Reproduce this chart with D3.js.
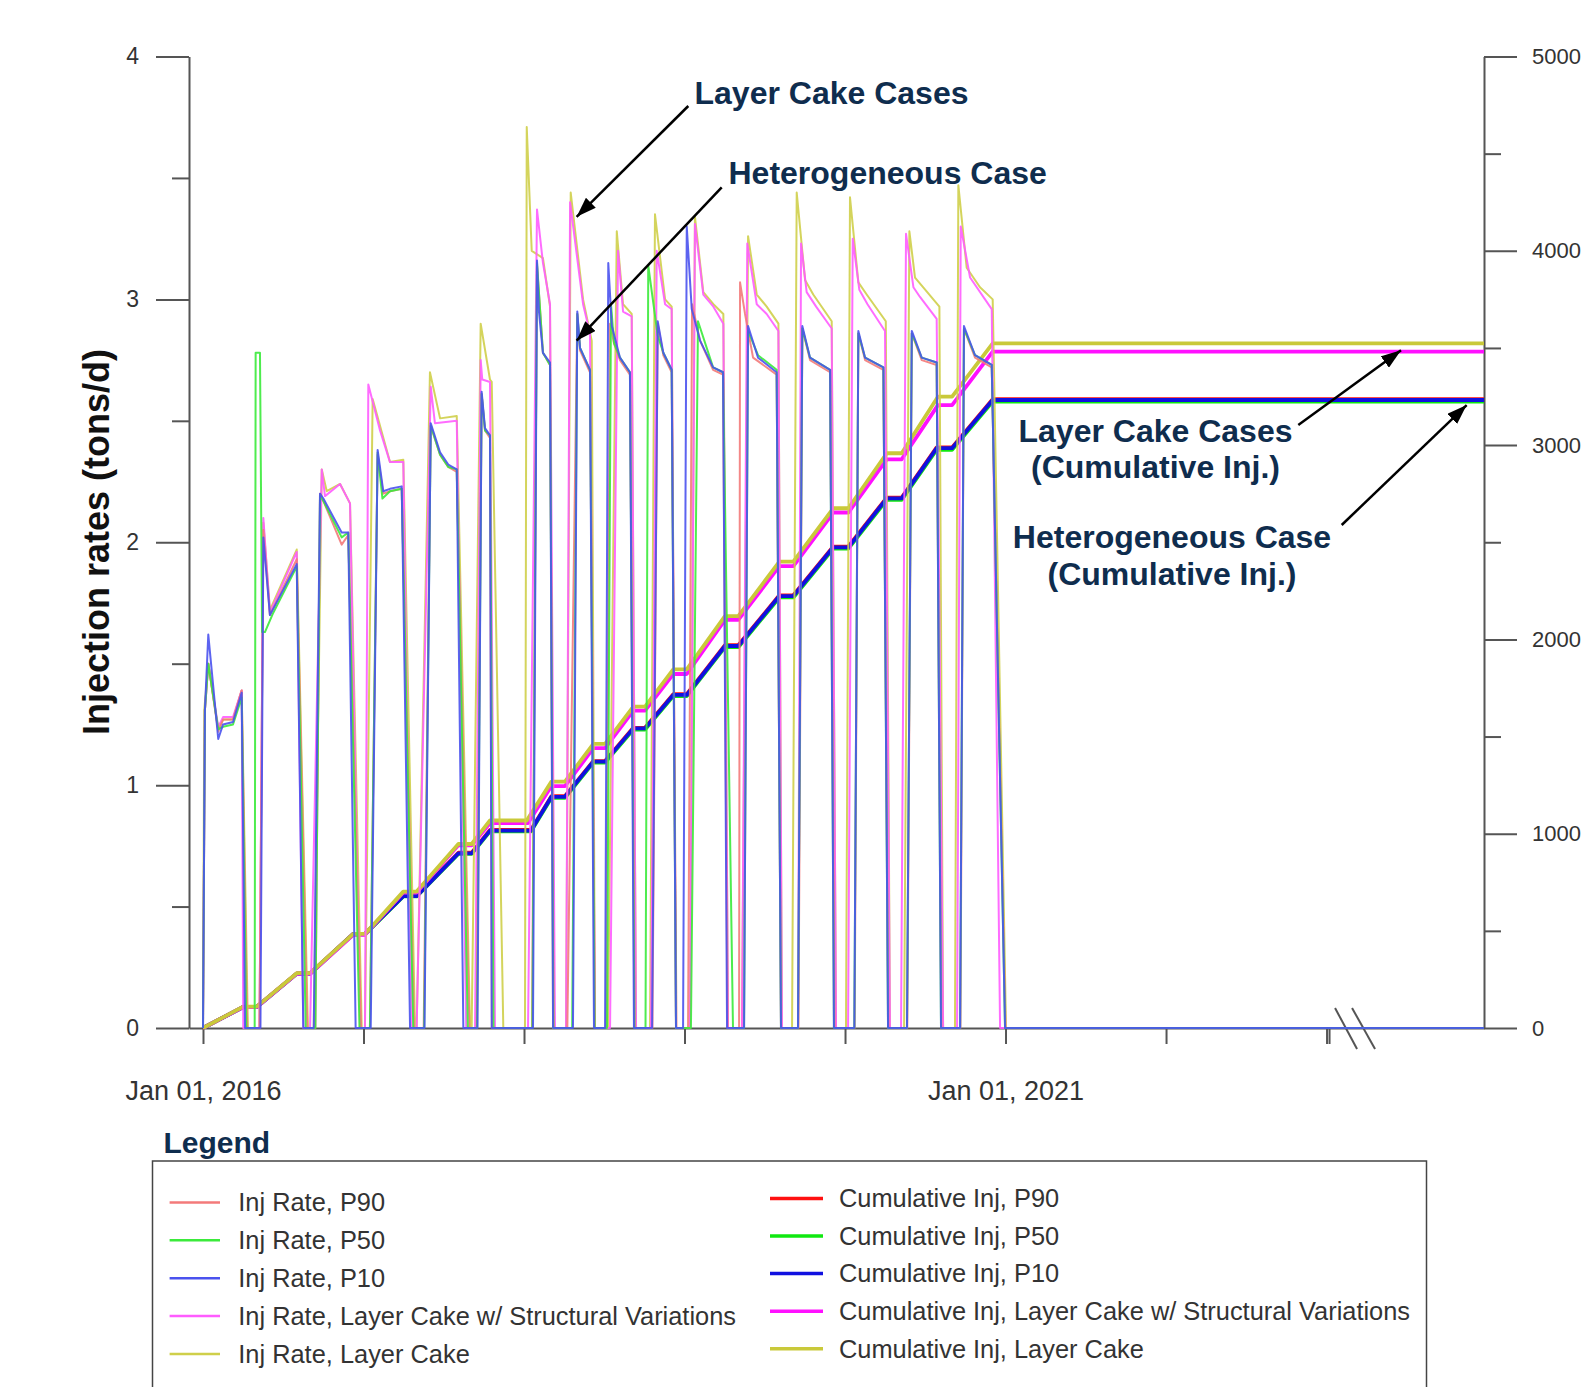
<!DOCTYPE html>
<html><head><meta charset="utf-8">
<script src="https://cdn.jsdelivr.net/npm/d3@7"></script>
<style>
html,body{margin:0;padding:0;background:#fff;}
svg{display:block;}
text{font-family:"Liberation Sans",Arial,Helvetica,sans-serif;}
</style></head><body>
<svg id="chart" width="1583" height="1387"></svg>
<script>
// time values are years since Jan 01, 2016
const xTickYears = [0,1,2,3,4,5,6,7];
const xTickText = ["Jan 01, 2016","","","","","Jan 01, 2021","",""];
const xDomain = [-0.0872, 7.981];
const breakAt = 7;
const yLeftMajor = [0,1,2,3,4];
const yLeftMinor = [0.5,1.5,2.5,3.5];
const yRightMajor = [0,1000,2000,3000,4000,5000];
const yRightMinor = [500,1500,2500,3500,4500];

const rateLC = [[0,0],[0.004,0.66],[0.008,1.31],[0.033,1.50],[0.095,1.23],[0.125,1.27],[0.187,1.27],[0.241,1.39],[0.280,0],
[0.352,0],[0.376,2.08],[0.417,1.72],[0.584,1.97],[0.654,0],
[0.690,0],[0.740,2.30],[0.771,2.21],[0.854,2.24],[0.916,2.16],[0.989,0],
[1.009,0],[1.057,2.59],[1.165,2.33],[1.248,2.34],[1.321,0],
[1.331,0],[1.414,2.70],[1.477,2.51],[1.581,2.52],[1.664,0],
[1.674,0],[1.730,2.90],[1.788,2.67],[1.799,2.66],[1.871,0],
[2.006,0],[2.017,3.71],[2.048,3.20],[2.118,3.17],[2.162,2.97],[2.181,0],
[2.262,0],[2.291,3.44],[2.368,3.00],[2.422,2.83],[2.442,0],
[2.523,0],[2.578,3.28],[2.617,2.98],[2.671,2.94],[2.698,0],
[2.785,0],[2.816,3.35],[2.879,3.00],[2.920,2.97],[2.947,0],
[3.034,0],[3.065,3.34],[3.117,3.03],[3.180,2.98],[3.242,2.94],[3.271,0],
[3.358,0],[3.396,3.26],[3.450,3.02],[3.512,2.97],[3.585,2.90],[3.607,0],
[3.670,0],[3.699,3.44],[3.751,3.08],[3.802,3.02],[3.917,2.91],[3.944,0],
[4.006,0],[4.031,3.42],[4.083,3.07],[4.135,3.02],[4.254,2.91],[4.280,0],
[4.368,0],[4.401,3.28],[4.436,3.09],[4.486,3.05],[4.588,2.97],[4.611,0],
[4.685,0],[4.706,3.47],[4.758,3.13],[4.841,3.05],[4.920,3.00],[5.003,0],[7.981,0]];

const rateLCSV = [[0,0],[0.012,1.31],[0.033,1.50],[0.095,1.24],[0.125,1.28],[0.187,1.28],[0.241,1.39],[0.251,0],
[0.352,0],[0.376,2.10],[0.417,1.71],[0.584,1.96],[0.625,0],
[0.667,0],[0.740,2.30],[0.760,2.19],[0.854,2.24],[0.916,2.16],[0.980,0],
[1.009,0],[1.030,2.65],[1.103,2.46],[1.165,2.33],[1.248,2.33],[1.300,0],
[1.331,0],[1.419,2.64],[1.445,2.49],[1.581,2.50],[1.640,0],
[1.695,0],[1.730,2.75],[1.740,2.67],[1.788,2.66],[1.819,0],
[2.025,0],[2.081,3.37],[2.118,3.15],[2.162,2.98],[2.193,0],
[2.262,0],[2.287,3.40],[2.368,2.98],[2.411,2.86],[2.442,0],
[2.536,0],[2.586,3.20],[2.617,2.95],[2.671,2.93],[2.698,0],
[2.791,0],[2.827,3.20],[2.879,2.98],[2.920,2.96],[2.947,0],
[3.034,0],[3.065,3.31],[3.117,3.02],[3.180,2.97],[3.242,2.90],[3.271,0],
[3.358,0],[3.391,3.23],[3.450,2.98],[3.512,2.94],[3.585,2.87],[3.607,0],
[3.707,0],[3.726,3.23],[3.761,3.03],[3.820,2.97],[3.917,2.88],[3.944,0],
[4.019,0],[4.048,3.25],[4.089,3.04],[4.140,2.98],[4.249,2.87],[4.280,0],
[4.349,0],[4.380,3.27],[4.426,3.05],[4.467,3.01],[4.571,2.92],[4.611,0],
[4.698,0],[4.721,3.30],[4.779,3.09],[4.914,2.96],[4.966,0],[7.981,0]];

const rateP10 = [[0,0],[0.012,1.31],[0.033,1.62],[0.095,1.19],[0.125,1.25],[0.187,1.26],[0.241,1.38],[0.262,0],
[0.358,0],[0.376,2.02],[0.417,1.70],[0.584,1.91],[0.625,0],
[0.690,0],[0.729,2.20],[0.750,2.18],[0.864,2.04],[0.905,2.04],[0.951,0],
[1.045,0],[1.088,2.38],[1.123,2.21],[1.165,2.22],[1.238,2.23],[1.290,0],
[1.380,0],[1.419,2.49],[1.477,2.37],[1.528,2.32],[1.581,2.30],[1.622,0],
[1.710,0],[1.736,2.62],[1.757,2.47],[1.788,2.44],[1.799,0],
[2.056,0],[2.081,3.16],[2.093,2.95],[2.118,2.78],[2.162,2.74],[2.181,0],
[2.305,0],[2.332,2.95],[2.349,2.80],[2.411,2.71],[2.436,0],
[2.505,0],[2.525,3.15],[2.547,2.89],[2.598,2.76],[2.660,2.70],[2.685,0],
[2.798,0],[2.833,2.91],[2.868,2.78],[2.920,2.71],[2.947,0],
[2.991,0],[3.014,3.30],[3.045,2.96],[3.097,2.83],[3.178,2.72],[3.240,2.70],[3.265,0],
[3.371,0],[3.396,2.89],[3.458,2.76],[3.574,2.70],[3.601,0],
[3.707,0],[3.734,2.89],[3.782,2.76],[3.907,2.71],[3.931,0],
[4.058,0],[4.083,2.87],[4.125,2.76],[4.239,2.72],[4.268,0],
[4.386,0],[4.416,2.87],[4.478,2.76],[4.571,2.74],[4.598,0],
[4.717,0],[4.741,2.89],[4.810,2.77],[4.914,2.73],[4.997,0],[7.981,0]];

const rateP90 = [[0,0],[0.012,1.31],[0.033,1.50],[0.095,1.22],[0.125,1.27],[0.187,1.27],[0.241,1.39],[0.275,0],
[0.352,0],[0.376,2.05],[0.417,1.70],[0.584,1.93],[0.650,0],
[0.700,0],[0.729,2.20],[0.750,2.17],[0.864,1.99],[0.905,2.03],[0.985,0],
[1.040,0],[1.088,2.36],[1.123,2.20],[1.165,2.21],[1.238,2.22],[1.315,0],
[1.375,0],[1.419,2.48],[1.477,2.36],[1.528,2.31],[1.581,2.29],[1.660,0],
[1.705,0],[1.736,2.61],[1.757,2.46],[1.788,2.43],[1.800,0],
[2.050,0],[2.081,3.14],[2.118,2.78],[2.162,2.73],[2.185,0],
[2.270,0],[2.332,2.94],[2.349,2.79],[2.411,2.70],[2.442,0],
[2.510,0],[2.536,2.90],[2.560,2.82],[2.598,2.75],[2.660,2.69],[2.690,0],
[2.800,0],[2.833,2.90],[2.868,2.77],[2.920,2.70],[2.950,0],
[3.022,0],[3.047,2.98],[3.097,2.83],[3.178,2.71],[3.240,2.69],[3.268,0],
[3.340,0],[3.346,3.07],[3.377,2.94],[3.427,2.76],[3.574,2.69],[3.601,0],
[3.710,0],[3.734,2.88],[3.782,2.75],[3.907,2.70],[3.935,0],
[4.060,0],[4.083,2.86],[4.125,2.75],[4.239,2.71],[4.270,0],
[4.388,0],[4.416,2.86],[4.478,2.75],[4.571,2.73],[4.600,0],
[4.719,0],[4.741,2.88],[4.810,2.76],[4.914,2.72],[5.000,0],[7.981,0]];

const rateP50 = [[0,0],[0.012,1.31],[0.033,1.50],[0.095,1.23],[0.125,1.24],[0.187,1.25],[0.241,1.36],[0.270,0],
[0.322,0],[0.328,2.78],[0.355,2.78],[0.368,1.63],[0.386,1.63],[0.438,1.71],[0.584,1.90],[0.640,0],
[0.700,0],[0.729,2.19],[0.750,2.17],[0.864,2.02],[0.905,2.04],[0.975,0],
[1.040,0],[1.088,2.37],[1.118,2.18],[1.165,2.21],[1.238,2.22],[1.310,0],
[1.378,0],[1.419,2.48],[1.477,2.36],[1.528,2.31],[1.581,2.30],[1.650,0],
[1.708,0],[1.736,2.61],[1.757,2.46],[1.788,2.44],[1.810,0],
[2.052,0],[2.081,3.15],[2.118,2.78],[2.162,2.73],[2.183,0],
[2.300,0],[2.332,2.94],[2.349,2.80],[2.411,2.71],[2.440,0],
[2.517,0],[2.542,2.98],[2.561,2.82],[2.598,2.76],[2.660,2.70],[2.688,0],
[2.757,0],[2.774,3.14],[2.833,2.85],[2.868,2.78],[2.920,2.71],[2.947,0],
[3.040,0],[3.084,2.91],[3.178,2.72],[3.240,2.70],[3.302,0],
[3.371,0],[3.396,2.87],[3.458,2.77],[3.574,2.71],[3.601,0],
[3.707,0],[3.734,2.88],[3.782,2.76],[3.907,2.71],[3.931,0],
[4.058,0],[4.083,2.86],[4.125,2.76],[4.239,2.72],[4.268,0],
[4.386,0],[4.416,2.86],[4.478,2.76],[4.571,2.74],[4.598,0],
[4.717,0],[4.741,2.88],[4.810,2.77],[4.914,2.73],[4.997,0],[7.981,0]];

const cumLC = [[0,0],[0.251,110],[0.335,110],[0.584,282],[0.667,282],[0.936,484],[1.009,484],[1.248,702],[1.331,702],[1.591,947],[1.674,947],[1.788,1068],[2.017,1068],[2.171,1268],[2.255,1268],[2.432,1462],[2.505,1462],[2.681,1654],[2.754,1654],[2.930,1846],[3.014,1846],[3.252,2120],[3.335,2120],[3.591,2400],[3.678,2400],[3.927,2675],[4.021,2675],[4.260,2958],[4.353,2958],[4.579,3249],[4.667,3249],[4.920,3524],[7.981,3524]];
const cumLCSV = [[0,0],[0.251,108],[0.335,108],[0.584,279],[0.667,279],[0.936,480],[1.009,480],[1.248,697],[1.331,697],[1.591,940],[1.674,940],[1.788,1055],[2.025,1055],[2.171,1245],[2.255,1245],[2.432,1440],[2.505,1440],[2.681,1633],[2.754,1633],[2.930,1822],[3.014,1822],[3.252,2100],[3.335,2100],[3.591,2377],[3.678,2377],[3.927,2653],[4.021,2653],[4.260,2927],[4.353,2927],[4.579,3206],[4.667,3206],[4.920,3481],[7.981,3481]];
const cumP10 = [[0,0],[0.251,108],[0.335,108],[0.584,280],[0.667,280],[0.936,484],[1.009,484],[1.248,679],[1.331,679],[1.591,899],[1.674,899],[1.788,1016],[2.044,1016],[2.171,1190],[2.255,1190],[2.432,1371],[2.505,1371],[2.681,1542],[2.754,1542],[2.930,1714],[3.014,1714],[3.252,1966],[3.335,1966],[3.591,2223],[3.678,2223],[3.927,2474],[4.021,2474],[4.260,2726],[4.353,2726],[4.571,2984],[4.667,2984],[4.920,3232],[7.981,3232]];
const cumP90 = [[0,0],[0.251,109],[0.335,109],[0.584,281],[0.667,281],[0.936,484],[1.009,484],[1.248,681],[1.331,681],[1.591,902],[1.674,902],[1.788,1020],[2.044,1020],[2.171,1193],[2.255,1193],[2.432,1374],[2.505,1374],[2.681,1545],[2.754,1545],[2.930,1718],[3.014,1718],[3.252,1970],[3.335,1970],[3.591,2227],[3.678,2227],[3.927,2478],[4.021,2478],[4.260,2730],[4.353,2730],[4.571,2988],[4.667,2988],[4.920,3236],[7.981,3236]];
const cumP50 = [[0,0],[0.251,108],[0.335,108],[0.584,279],[0.667,279],[0.936,482],[1.009,482],[1.248,677],[1.331,677],[1.591,896],[1.674,896],[1.788,1012],[2.044,1012],[2.171,1185],[2.255,1185],[2.432,1366],[2.505,1366],[2.681,1536],[2.754,1536],[2.930,1708],[3.014,1708],[3.252,1960],[3.335,1960],[3.591,2216],[3.678,2216],[3.927,2467],[4.021,2467],[4.260,2718],[4.353,2718],[4.571,2976],[4.667,2976],[4.920,3224],[7.981,3224]];

const rateNames = ["Inj Rate, P90","Inj Rate, P50","Inj Rate, P10","Inj Rate, Layer Cake w/ Structural Variations","Inj Rate, Layer Cake"];
const cumNames = ["Cumulative Inj, P90","Cumulative Inj, P50","Cumulative Inj, P10","Cumulative Inj, Layer Cake w/ Structural Variations","Cumulative Inj, Layer Cake"];
const rateColors = ["#f37a7a","#3bea3b","#4a52ee","#ff5cff","#cfcf4a"];
const cumColors = ["#ff1010","#10e810","#1010e0","#ff10ff","#c9c93a"];
const rateSeries = [rateP90, rateP50, rateP10, rateLCSV, rateLC];
const cumSeries = [cumP90, cumP50, cumP10, cumLCSV, cumLC];

const svg = d3.select('#chart');
const x = d3.scaleLinear().domain(xDomain).range([189,1484]);
const yL = d3.scaleLinear().domain([0,4]).range([1028,56.5]);
const yR = d3.scaleLinear().domain([0,5000]).range([1028,56.5]);
const axisColor = "#555";
const labelColor = "#333";
const navy = "#0f2d4e";

function styleAxis(g, fs){
  g.selectAll('.domain').attr('stroke',axisColor).attr('stroke-width',2);
  g.selectAll('.tick line').attr('stroke',axisColor).attr('stroke-width',2);
  g.selectAll('text').attr('fill',labelColor).style('font-size',fs+'px')
   .style('font-family','"Liberation Sans",Arial,sans-serif');
}

// left axis
const gL = svg.append('g').attr('transform','translate(189,0)')
  .call(d3.axisLeft(yL).tickValues(yLeftMajor).tickSize(33).tickSizeOuter(0).tickPadding(17).tickFormat(d3.format('d')));
styleAxis(gL,23);
const gLm = svg.append('g').attr('transform','translate(189,0)')
  .call(d3.axisLeft(yL).tickValues(yLeftMinor).tickSize(17).tickSizeOuter(0).tickFormat(''));
styleAxis(gLm,23); gLm.select('.domain').remove();

// right axis
const gR = svg.append('g').attr('transform','translate(1484,0)')
  .call(d3.axisRight(yR).tickValues(yRightMajor).tickSize(33).tickSizeOuter(0).tickPadding(15).tickFormat(d3.format('d')));
styleAxis(gR,22);
const gRm = svg.append('g').attr('transform','translate(1484,0)')
  .call(d3.axisRight(yR).tickValues(yRightMinor).tickSize(17).tickSizeOuter(0).tickFormat(''));
styleAxis(gRm,22); gRm.select('.domain').remove();

// bottom axis
const gB = svg.append('g').attr('transform','translate(0,1028)')
  .call(d3.axisBottom(x).tickValues(xTickYears).tickSize(16).tickSizeOuter(0).tickPadding(37)
    .tickFormat((d,i)=>xTickText[i]));
styleAxis(gB,27);
// break marks
const bx = x(breakAt);
svg.append('line').attr('x1',bx+3).attr('x2',bx+3).attr('y1',1028).attr('y2',1044).attr('stroke',axisColor).attr('stroke-width',2);
[[8.5,30.5],[25.5,48.5]].forEach(o=>{
  svg.append('line').attr('x1',bx+o[0]).attr('y1',1008).attr('x2',bx+o[1]).attr('y2',1049)
    .attr('stroke',axisColor).attr('stroke-width',2);
});

// y title
svg.append('text').attr('transform','translate(109,542) rotate(-90)').attr('text-anchor','middle')
  .style('font-size','36px').style('font-weight','bold').attr('fill','#111').text('Injection rates (tons/d)');

// cumulative lines
const lineR = d3.line().x(d=>x(d[0])).y(d=>yR(d[1]));
const lineL = d3.line().x(d=>x(d[0])).y(d=>yL(d[1]));
cumSeries.forEach((s,i)=>{
  svg.append('path').datum(s).attr('d',lineR).attr('fill','none').attr('stroke',cumColors[i])
    .attr('stroke-width',3.8).attr('stroke-linejoin','round');
});
// rate lines (layer cake first, heterogeneous on top)
[4,3,0,1,2].forEach(i=>{
  svg.append('path').datum(rateSeries[i]).attr('d',lineL).attr('fill','none').attr('stroke',rateColors[i])
    .attr('stroke-width',2).attr('stroke-linejoin','round').attr('opacity',0.9);
});

// annotations
const defs = svg.append('defs');
defs.append('marker').attr('id','ah').attr('viewBox','0 0 20 14').attr('refX',20).attr('refY',7)
  .attr('markerWidth',20).attr('markerHeight',14).attr('markerUnits','userSpaceOnUse').attr('orient','auto')
  .append('path').attr('d','M0,0 L20,7 L0,14 Z').attr('fill','#000');
function arrow(x1,y1,x2,y2){
  svg.append('line').attr('x1',x1).attr('y1',y1).attr('x2',x2).attr('y2',y2)
    .attr('stroke','#000').attr('stroke-width',2.5).attr('marker-end','url(#ah)');
}
function label(tx,ty,txt,anchor){
  svg.append('text').attr('x',tx).attr('y',ty).attr('text-anchor',anchor||'start')
    .style('font-size','32px').style('font-weight','bold').attr('fill',navy).text(txt);
}
label(694.5,104,'Layer Cake Cases');
label(728.5,184,'Heterogeneous Case');
arrow(688.3,106, x(2.328), yL(3.34));
arrow(721.7,187.3, x(2.328), yL(2.83));
label(1155.5,441.7,'Layer Cake Cases','middle');
label(1155.5,478.3,'(Cumulative Inj.)','middle');
label(1172,548.3,'Heterogeneous Case','middle');
label(1172,585,'(Cumulative Inj.)','middle');
arrow(1298.3,425, x(7.464), yR(3488));
arrow(1341.7,525, x(7.873), yR(3206));

// legend
svg.append('text').attr('x',163.5).attr('y',1153).style('font-size','30px').style('font-weight','bold')
  .attr('fill',navy).text('Legend');
svg.append('rect').attr('x',152.5).attr('y',1161).attr('width',1274).attr('height',260)
  .attr('fill','none').attr('stroke','#444').attr('stroke-width',1.5);
rateNames.forEach((n,i)=>{
  const yy = 1202.4 + i*37.9;
  svg.append('line').attr('x1',169.6).attr('x2',220).attr('y1',yy).attr('y2',yy).attr('stroke',rateColors[i]).attr('stroke-width',2.5);
  svg.append('text').attr('x',238.3).attr('y',yy).attr('dy','0.35em').style('font-size','25.4px').attr('fill',labelColor).text(n);
});
cumNames.forEach((n,i)=>{
  const yy = 1198.4 + i*37.6;
  svg.append('line').attr('x1',770).attr('x2',823).attr('y1',yy).attr('y2',yy).attr('stroke',cumColors[i]).attr('stroke-width',3.5);
  svg.append('text').attr('x',839).attr('y',yy).attr('dy','0.35em').style('font-size','25.4px').attr('fill',labelColor).text(n);
});
</script>
</body></html>
